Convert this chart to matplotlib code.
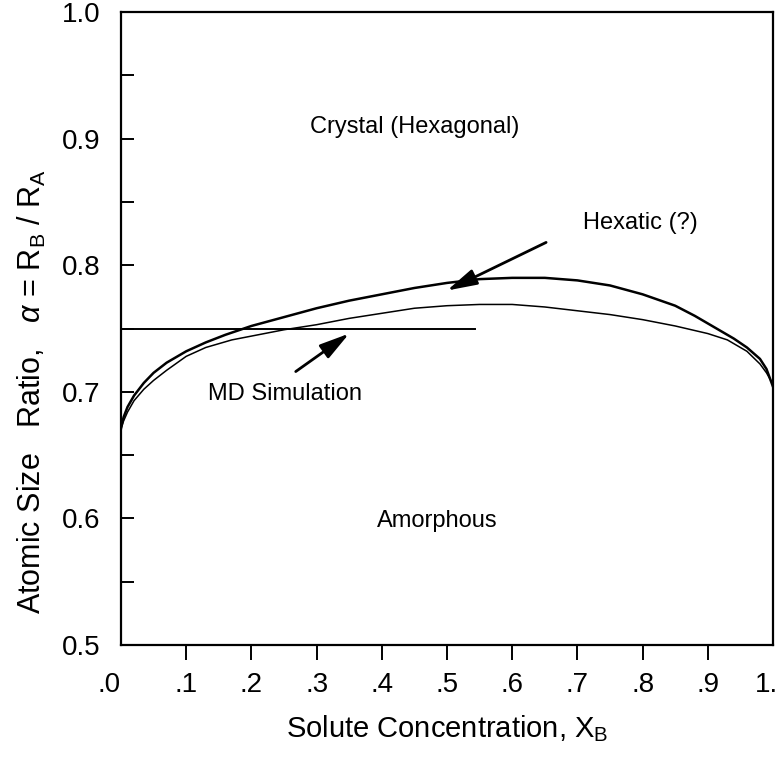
import matplotlib
matplotlib.use("Agg")
import matplotlib.pyplot as plt
import matplotlib.transforms as mtransforms

plt.rcParams["font.family"] = ["Liberation Sans", "DejaVu Sans"]
plt.rcParams["mathtext.fontset"] = "custom"
plt.rcParams["mathtext.rm"] = "Liberation Sans"
plt.rcParams["mathtext.it"] = "Liberation Sans:italic"

# crystal / hexatic boundary (upper, heavier curve)
hex_x = [0.0, 0.004, 0.01, 0.02, 0.035, 0.05, 0.07, 0.1, 0.13, 0.16, 0.2,
         0.25, 0.3, 0.35, 0.4, 0.45, 0.5, 0.55, 0.6, 0.65, 0.7, 0.75, 0.8,
         0.85, 0.88, 0.91, 0.94, 0.96, 0.98, 0.99, 1.0]
hex_y = [0.671, 0.680, 0.688, 0.697, 0.707, 0.715, 0.723, 0.732, 0.739, 0.745, 0.752,
         0.759, 0.766, 0.772, 0.777, 0.782, 0.786, 0.789, 0.790, 0.790, 0.788, 0.784, 0.777,
         0.768, 0.760, 0.751, 0.742, 0.735, 0.726, 0.718, 0.704]

# hexatic / amorphous boundary (lower curve)
amo_x = [0.0, 0.004, 0.01, 0.02, 0.035, 0.05, 0.07, 0.1, 0.13, 0.17, 0.2,
         0.25, 0.3, 0.35, 0.4, 0.45, 0.5, 0.55, 0.6, 0.65, 0.7, 0.75, 0.8,
         0.85, 0.9, 0.93, 0.96, 0.98, 0.99, 1.0]
amo_y = [0.671, 0.677, 0.684, 0.693, 0.702, 0.709, 0.717, 0.728, 0.735, 0.741, 0.744,
         0.749, 0.753, 0.758, 0.762, 0.766, 0.768, 0.769, 0.769, 0.767, 0.764, 0.761, 0.757,
         0.752, 0.746, 0.741, 0.732, 0.722, 0.715, 0.706]

# MD simulation composition range at alpha = 0.75
md_x = [0.0, 0.543]
md_y = [0.75, 0.75]

x_ticks = [0.0, 0.1, 0.2, 0.3, 0.4, 0.5, 0.6, 0.7, 0.8, 0.9, 1.0]
x_labels = [".0", ".1", ".2", ".3", ".4", ".5", ".6", ".7", ".8", ".9", "1."]
y_ticks = [0.5, 0.6, 0.7, 0.8, 0.9, 1.0]
y_labels = ["0.5", "0.6", "0.7", "0.8", "0.9", "1.0"]
y_minor = [0.55, 0.65, 0.75, 0.85, 0.95]

fig = plt.figure(figsize=(7.83, 7.59), dpi=100)
ax = fig.add_axes([121 / 783, 114 / 759, 652 / 783, 633 / 759])

ax.plot(hex_x, hex_y, color="black", lw=1.8, solid_joinstyle="round")
ax.plot(amo_x, amo_y, color="black", lw=1.1, solid_joinstyle="round")
ax.plot(md_x, md_y, color="black", lw=1.4)

arrow = dict(arrowstyle="-|>,head_length=1.3,head_width=0.35",
             color="black", lw=2.0, mutation_scale=14, shrinkA=0, shrinkB=0)
ax.annotate("", xy=(0.50, 0.780), xytext=(0.652, 0.818), arrowprops=arrow)
ax.annotate("", xy=(0.350, 0.746), xytext=(0.268, 0.716), arrowprops=arrow)

fs = 17
ax.text(0.451, 0.909, "Crystal (Hexagonal)", fontsize=fs, ha="center", va="center")
ax.text(0.796, 0.833, "Hexatic (?)", fontsize=fs, ha="center", va="center")
ax.text(0.252, 0.698, "MD Simulation", fontsize=fs, ha="center", va="center")
ax.text(0.485, 0.598, "Amorphous", fontsize=fs, ha="center", va="center")

ax.set_xlim(0, 1)
ax.set_ylim(0.5, 1.0)
ax.set_xticks(x_ticks)
ax.set_xticklabels(x_labels, fontsize=20)
ax.set_yticks(y_ticks)
ax.set_yticklabels(y_labels, fontsize=20)
ax.set_yticks(y_minor, minor=True)

ax.tick_params(axis="x", direction="out", length=10.5, width=1.4, pad=9)
ax.tick_params(axis="y", which="both", direction="in", length=9.5, width=1.4, pad=15)
ax.yaxis.get_major_ticks()[-1].tick1line.set_visible(False)
ax.xaxis.get_major_ticks()[0].tick1line.set_visible(False)
ax.xaxis.get_major_ticks()[-1].tick1line.set_visible(False)

# end labels sit a little inward from the frame corners
xl = ax.get_xticklabels()
xl[0].set_horizontalalignment("right")
shift = mtransforms.ScaledTranslation(-0.07, 0, fig.dpi_scale_trans)
xl[-1].set_transform(xl[-1].get_transform() + shift)

for s in ax.spines.values():
    s.set_linewidth(1.6)

ax.set_xlabel("Solute Concentration, X$_\\mathrm{B}$", fontsize=21, labelpad=11)
ax.set_ylabel("Atomic Size   Ratio,   $\\alpha$ = R$_\\mathrm{B}$ / R$_\\mathrm{A}$",
              fontsize=22, labelpad=10)
ax.yaxis.label.set_y(0.40)

fig.savefig("out.png", dpi=100)
